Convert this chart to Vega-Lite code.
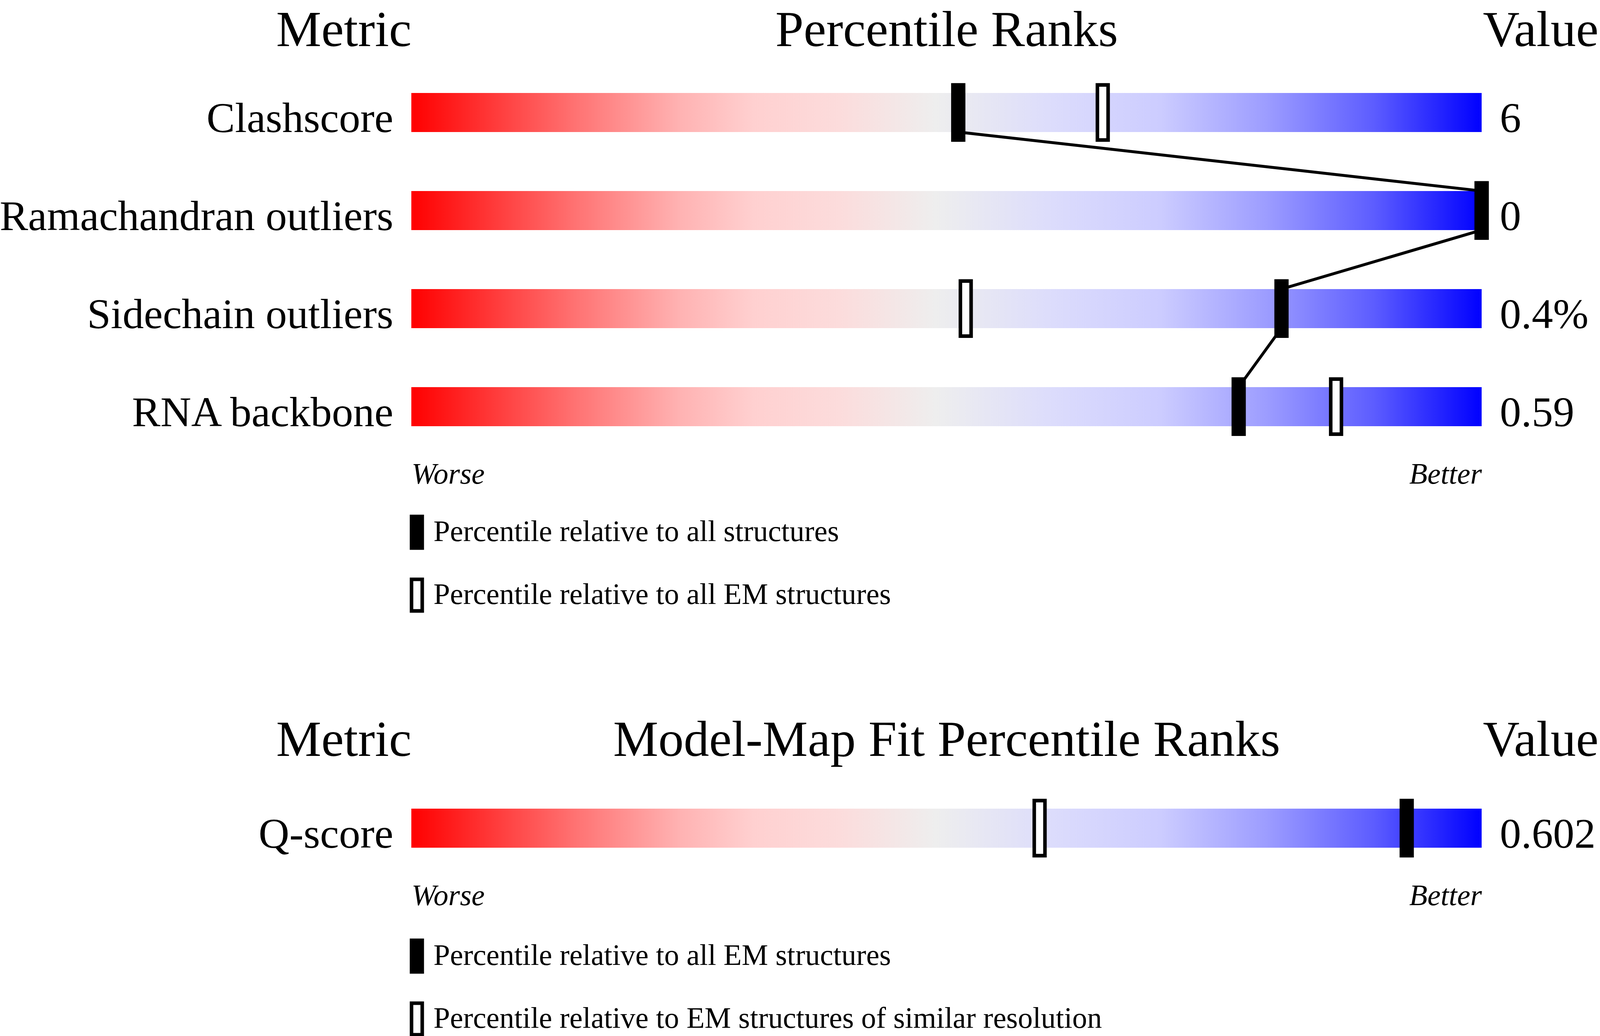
{
  "$schema": "https://vega.github.io/schema/vega-lite/v6.json",
  "background": "white",
  "padding": {"left": -2, "top": 13.4, "right": 0, "bottom": 0},
  "spacing": 247,
  "config": {
    "font": "Liberation Serif",
    "view": {"stroke": null},
    "axis": {"labelFont": "Liberation Serif", "titleFont": "Liberation Serif", "labelColor": "black", "titleColor": "black", "grid": false, "domain": false, "ticks": false, "tickSize": 0, "labelLimit": 3000},
    "legend": {"labelFont": "Liberation Serif", "labelFontSize": 76, "labelColor": "black", "labelLimit": 3000, "symbolType": "M-0.3387,-1H0.3387V1H-0.3387Z", "symbolSize": 6545, "symbolStrokeColor": "black", "symbolStrokeWidth": 9.1, "symbolOpacity": 1, "rowPadding": 42, "padding": 0, "labelOffset": -3, "orient": "none"}
  },
  "resolve": {"scale": {"x": "independent", "y": "independent", "fill": "independent"}, "legend": {"fill": "independent"}},
  "vconcat": [
    {
      "width": 2740,
      "height": 1004,
      "data": {"values": [
        {"metric": "Clashscore", "order": 1, "value": "6", "all": 51.1, "em": 64.6},
        {"metric": "Ramachandran outliers", "order": 2, "value": "0", "all": 100, "em": 100},
        {"metric": "Sidechain outliers", "order": 3, "value": "0.4%", "all": 81.3, "em": 51.8},
        {"metric": "RNA backbone", "order": 4, "value": "0.59", "all": 77.3, "em": 86.4}
      ]},
      "resolve": {"axis": {"y": "independent", "x": "independent"}},
      "layer": [
        {
          "mark": {"type": "rect", "fill": {"gradient": "linear", "x1": 0, "y1": 0, "x2": 1, "y2": 0, "stops": [
            {"offset": 0, "color": "#ff0000"},
            {"offset": 0.08, "color": "#ff3c3c"},
            {"offset": 0.15, "color": "#ff7070"},
            {"offset": 0.25, "color": "#ffb2b2"},
            {"offset": 0.32, "color": "#ffd0d0"},
            {"offset": 0.40, "color": "#fcdcdc"},
            {"offset": 0.49, "color": "#eeeeee"},
            {"offset": 0.60, "color": "#dcdcfc"},
            {"offset": 0.70, "color": "#ccccff"},
            {"offset": 0.80, "color": "#9c9cff"},
            {"offset": 0.90, "color": "#5c5cff"},
            {"offset": 1, "color": "#0000ff"}
          ]}},
          "encoding": {
            "y": {"field": "metric", "type": "nominal",
              "scale": {"domain": ["Clashscore", "Ramachandran outliers", "Sidechain outliers", "RNA backbone"], "paddingInner": 0.6016, "paddingOuter": 0.3008},
              "axis": {"orient": "left", "title": "Metric", "labelFontSize": 109, "labelBaseline": "alphabetic", "labelOffset": 50, "labelPadding": 46.6,
                "titleFontSize": 130, "titleFontWeight": "normal", "titleAngle": 0, "titleAlign": "right", "titleBaseline": "alphabetic", "titleX": 0, "titleY": -44.5}},
            "x": {"datum": 0, "type": "quantitative", "scale": {"domain": [0, 100], "nice": false, "zero": false},
              "axis": {"orient": "bottom", "values": [0, 100], "labelExpr": "datum.value == 0 ? 'Worse' : 'Better'", "labelFontSize": 76, "labelFontStyle": "italic", "labelFlush": true, "labelPadding": 71, "labelBaseline": "alphabetic", "title": null}},
            "x2": {"datum": 100}
          }
        },
        {
          "transform": [
            {"window": [{"op": "lead", "field": "all", "as": "next_all"}, {"op": "lead", "field": "metric", "as": "next_metric"}], "sort": [{"field": "order", "order": "ascending"}]},
            {"filter": "datum.next_metric != null"}
          ],
          "mark": {"type": "rule", "stroke": "black", "strokeWidth": 7.5, "yOffset": 50, "y2Offset": -50},
          "encoding": {
            "x": {"field": "all", "type": "quantitative", "axis": null},
            "x2": {"field": "next_all"},
            "y": {"field": "metric", "type": "nominal", "axis": null},
            "y2": {"field": "next_metric"}
          }
        },
        {
          "transform": [{"fold": ["em", "all"], "as": ["type", "rank"]}],
          "mark": {"type": "tick", "orient": "vertical", "size": 141, "thickness": 27.4, "stroke": "black", "strokeWidth": 9.1, "opacity": 1},
          "encoding": {
            "x": {"field": "rank", "type": "quantitative", "axis": null},
            "y": {"field": "metric", "type": "nominal", "axis": null},
            "fill": {"field": "type", "type": "nominal",
              "scale": {"domain": ["all", "em"], "range": ["black", "white"]},
              "legend": {"title": null, "orient": "none", "legendX": -31.3, "legendY": 1154.5, "direction": "vertical",
                "labelExpr": "datum.label == 'all' ? 'Percentile relative to all structures' : 'Percentile relative to all EM structures'"}}
          }
        },
        {
          "mark": {"type": "text", "align": "left", "baseline": "alphabetic", "dx": 46.6, "fontSize": 109, "font": "Liberation Serif", "color": "black"},
          "encoding": {
            "x": {"datum": 100, "type": "quantitative",
              "axis": {"orient": "top", "labels": false, "title": "Percentile Ranks", "titleFontSize": 130, "titleFontWeight": "normal", "titleAngle": 0, "titleAlign": "center", "titleBaseline": "alphabetic", "titleX": 1370, "titleY": -44.5}},
            "y": {"field": "metric", "type": "nominal", "bandPosition": 1,
              "axis": {"orient": "right", "labels": false, "title": "Value", "titleFontSize": 130, "titleFontWeight": "normal", "titleAngle": 0, "titleAlign": "left", "titleBaseline": "alphabetic", "titleX": 2.7, "titleY": -44.5}},
            "text": {"field": "value"}
          }
        }
      ]
    },
    {
      "width": 2740,
      "height": 251,
      "data": {"values": [
        {"metric": "Q-score", "order": 1, "value": "0.602", "all": 93.0, "sim": 58.7}
      ]},
      "resolve": {"axis": {"y": "independent", "x": "independent"}},
      "layer": [
        {
          "mark": {"type": "rect", "fill": {"gradient": "linear", "x1": 0, "y1": 0, "x2": 1, "y2": 0, "stops": [
            {"offset": 0, "color": "#ff0000"},
            {"offset": 0.08, "color": "#ff3c3c"},
            {"offset": 0.15, "color": "#ff7070"},
            {"offset": 0.25, "color": "#ffb2b2"},
            {"offset": 0.32, "color": "#ffd0d0"},
            {"offset": 0.40, "color": "#fcdcdc"},
            {"offset": 0.49, "color": "#eeeeee"},
            {"offset": 0.60, "color": "#dcdcfc"},
            {"offset": 0.70, "color": "#ccccff"},
            {"offset": 0.80, "color": "#9c9cff"},
            {"offset": 0.90, "color": "#5c5cff"},
            {"offset": 1, "color": "#0000ff"}
          ]}},
          "encoding": {
            "y": {"field": "metric", "type": "nominal",
              "scale": {"domain": ["Q-score"], "paddingInner": 0.6016, "paddingOuter": 0.3008},
              "axis": {"orient": "left", "title": "Metric", "labelFontSize": 109, "labelBaseline": "alphabetic", "labelOffset": 50, "labelPadding": 46.6,
                "titleFontSize": 130, "titleFontWeight": "normal", "titleAngle": 0, "titleAlign": "right", "titleBaseline": "alphabetic", "titleX": 0, "titleY": -60}},
            "x": {"datum": 0, "type": "quantitative", "scale": {"domain": [0, 100], "nice": false, "zero": false},
              "axis": {"orient": "bottom", "values": [0, 100], "labelExpr": "datum.value == 0 ? 'Worse' : 'Better'", "labelFontSize": 76, "labelFontStyle": "italic", "labelFlush": true, "labelPadding": 71, "labelBaseline": "alphabetic", "title": null}},
            "x2": {"datum": 100}
          }
        },
        {
          "transform": [{"fold": ["sim", "all"], "as": ["type", "rank"]}],
          "mark": {"type": "tick", "orient": "vertical", "size": 141, "thickness": 27.4, "stroke": "black", "strokeWidth": 9.1, "opacity": 1},
          "encoding": {
            "x": {"field": "rank", "type": "quantitative", "axis": null},
            "y": {"field": "metric", "type": "nominal", "axis": null},
            "fill": {"field": "type", "type": "nominal",
              "scale": {"domain": ["all", "sim"], "range": ["black", "white"]},
              "legend": {"title": null, "orient": "none", "legendX": -31.3, "legendY": 407.5, "direction": "vertical",
                "labelExpr": "datum.label == 'all' ? 'Percentile relative to all EM structures' : 'Percentile relative to EM structures of similar resolution'"}}
          }
        },
        {
          "mark": {"type": "text", "align": "left", "baseline": "alphabetic", "dx": 46.6, "fontSize": 109, "font": "Liberation Serif", "color": "black"},
          "encoding": {
            "x": {"datum": 100, "type": "quantitative",
              "axis": {"orient": "top", "labels": false, "title": "Model-Map Fit Percentile Ranks", "titleFontSize": 130, "titleFontWeight": "normal", "titleAngle": 0, "titleAlign": "center", "titleBaseline": "alphabetic", "titleX": 1370, "titleY": -60}},
            "y": {"field": "metric", "type": "nominal", "bandPosition": 1,
              "axis": {"orient": "right", "labels": false, "title": "Value", "titleFontSize": 130, "titleFontWeight": "normal", "titleAngle": 0, "titleAlign": "left", "titleBaseline": "alphabetic", "titleX": 2.7, "titleY": -60}},
            "text": {"field": "value"}
          }
        }
      ]
    }
  ]
}
